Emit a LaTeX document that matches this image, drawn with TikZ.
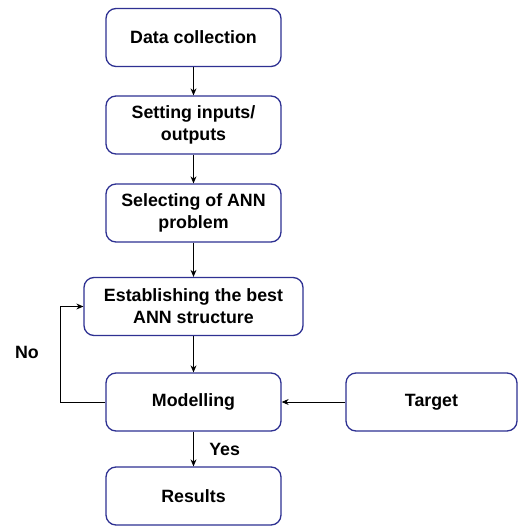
\documentclass[tikz,border=0pt]{standalone}
\usepackage{fontspec}
\setmainfont{Liberation Sans}
\usetikzlibrary{arrows.meta}
\definecolor{boxblue}{RGB}{46,49,146}

\begin{document}
\begin{tikzpicture}[x=1pt, y=-1pt, font=\fontsize{17.8}{22}\selectfont\bfseries,
    block/.style={draw=boxblue, line width=1.3pt, rectangle, rounded corners=10pt, fill=white,
      minimum width=175pt, minimum height=58pt, align=center, inner sep=2pt},
    arrow/.style={-{Stealth[length=7pt, width=6pt]}, line width=0.9pt}]
  \useasboundingbox (0,0) rectangle (517,526);

  % Nodes
  \node[block] (data) at (193.5,37.5) {Data collection};
  \node[block, below of=data, node distance=87.5pt] (setting) {Setting inputs/\\outputs};
  \node[block, below of=setting, node distance=88pt] (select) {Selecting of ANN\\problem};
  \node[block, minimum width=219pt, below of=select, node distance=93.5pt] (establish) {Establishing the best\\ANN structure};
  \node[block, below of=establish, node distance=95.5pt] (model) {Modelling};
  \node[block, minimum width=171pt, right of=model, node distance=238pt] (target) {Target};
  \node[block, below of=model, node distance=94pt] (results) {Results};
  \node (no) at (27,352) {No};

  % Edges
  \draw[arrow] (data) -- (setting);
  \draw[arrow] (setting) -- (select);
  \draw[arrow] (select) -- (establish);
  \draw[arrow] (establish) -- (model);
  \draw[arrow] (target) -- (model);
  \draw[arrow] (model) -- node[right, xshift=12pt] {Yes} (results);
  \draw[arrow] (model.west) -- ++(-45pt,0) |- (establish.west);
\end{tikzpicture}
\end{document}
